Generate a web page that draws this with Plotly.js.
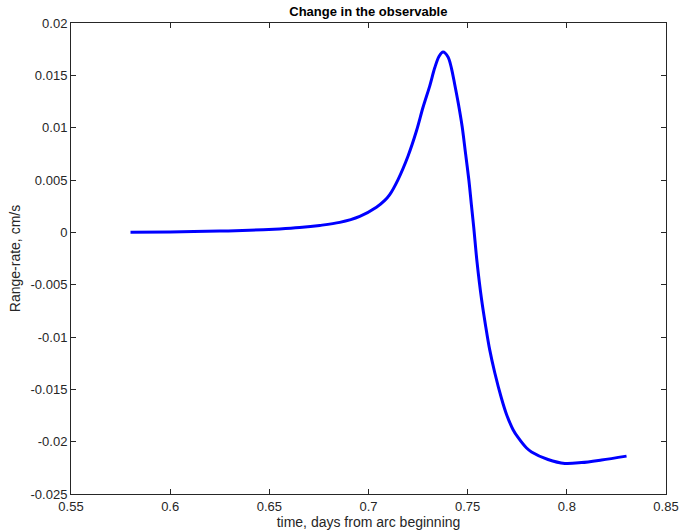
<!DOCTYPE html>
<html>
<head>
<meta charset="utf-8">
<script src="https://cdn.plot.ly/plotly-3.0.1.min.js"></script>
<style>html,body{margin:0;padding:0;background:#fff;}#chart{width:679px;height:531px;}</style>
</head>
<body>
<div id="chart"></div>
<script>
const timeDays = [0.580, 0.600, 0.625, 0.640, 0.6552, 0.6653, 0.6754, 0.6855, 0.6956, 0.7040, 0.7082, 0.7107, 0.7149, 0.7199, 0.7242, 0.7275, 0.7309, 0.7334, 0.7356, 0.7376, 0.7401, 0.7418, 0.7435, 0.7452, 0.7472, 0.7489, 0.7506, 0.7519, 0.7531, 0.7547, 0.7570, 0.7591, 0.7611, 0.7637, 0.7670, 0.7696, 0.7729, 0.7754, 0.7797, 0.7822, 0.7905, 0.7990, 0.8074, 0.8175, 0.8301];
const rangeRate = [0.0000, 0.00004, 0.00012, 0.0002, 0.00033, 0.00046, 0.00066, 0.00095, 0.00153, 0.0024, 0.00305, 0.0036, 0.00504, 0.00727, 0.0097, 0.01195, 0.0140, 0.01572, 0.01683, 0.01722, 0.01675, 0.0157, 0.0141, 0.0124, 0.01013, 0.00759, 0.0050, 0.0026, 0.0004, -0.0028, -0.0064, -0.00899, -0.01121, -0.01344, -0.01583, -0.0174, -0.01886, -0.0196, -0.02061, -0.02098, -0.0217, -0.02208, -0.022, -0.02175, -0.02138];
const xTicks = [0.55, 0.6, 0.65, 0.7, 0.75, 0.8, 0.85];
const xTickText = ['0.55', '0.6', '0.65', '0.7', '0.75', '0.8', '0.85'];
const yTicks = [-0.025, -0.02, -0.015, -0.01, -0.005, 0, 0.005, 0.01, 0.015, 0.02];
const yTickText = ['-0.025', '-0.02', '-0.015', '-0.01', '-0.005', '0', '0.005', '0.01', '0.015', '0.02'];

const trace = {
  x: timeDays, y: rangeRate, type: 'scatter', mode: 'lines',
  line: {color: '#0000ff', width: 3, shape: 'spline', smoothing: 0.9},
  hoverinfo: 'skip'
};
const axisCommon = {
  showgrid: false, zeroline: false, showline: true, mirror: 'ticks',
  linecolor: '#262626', linewidth: 1, ticks: 'inside', ticklen: 5, tickcolor: '#262626',
  tickfont: {family: 'Liberation Sans, Arial, sans-serif', size: 13, color: '#262626'},
  tickmode: 'array'
};
const layout = {
  width: 679, height: 531,
  margin: {l: 71, r: 13, t: 23, b: 37},
  paper_bgcolor: '#ffffff', plot_bgcolor: '#ffffff',
  showlegend: false,
  title: {text: '<b>Change in the observable</b>', x: 0.5425, xanchor: 'center', y: 0.978, yanchor: 'middle',
    font: {family: 'Liberation Sans, Arial, sans-serif', size: 13, color: '#000000'}},
  xaxis: Object.assign({}, axisCommon, {
    range: [0.55, 0.85], tickvals: xTicks, ticktext: xTickText,
    title: {text: 'time, days from arc beginning', standoff: 2,
      font: {family: 'Liberation Sans, Arial, sans-serif', size: 14, color: '#262626'}}
  }),
  yaxis: Object.assign({}, axisCommon, {
    range: [-0.025, 0.02], tickvals: yTicks, ticktext: yTickText,
    title: {text: 'Range-rate, cm/s', standoff: 6,
      font: {family: 'Liberation Sans, Arial, sans-serif', size: 14, color: '#262626'}}
  })
};
Plotly.newPlot('chart', [trace], layout, {displayModeBar: false, staticPlot: true});
</script>
</body>
</html>
